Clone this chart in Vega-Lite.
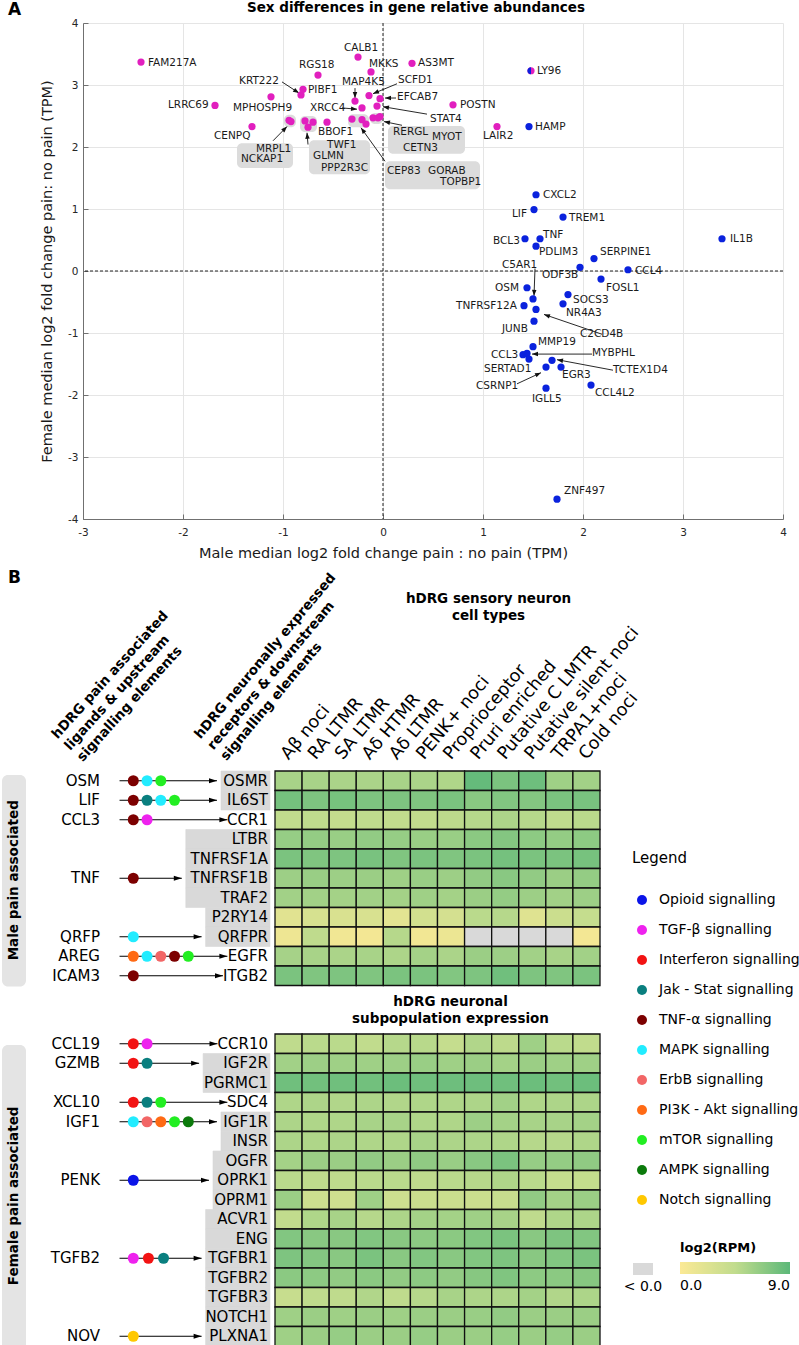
{
"$schema":"https://vega.github.io/schema/vega-lite/v6.json",
"background":"white",
"padding":{"left":2,"top":0,"right":0,"bottom":0},
"config":{"font":"DejaVu Sans","view":{"stroke":null}},
"datasets":{
"aPts":[
{"gene":"FAM217A","x":-2.42,"y":3.37,"sex":"female"},
{"gene":"CALB1","x":-0.25,"y":3.45,"sex":"female"},
{"gene":"MKKS","x":-0.12,"y":3.21,"sex":"female"},
{"gene":"AS3MT","x":0.29,"y":3.35,"sex":"female"},
{"gene":"RGS18","x":-0.65,"y":3.16,"sex":"female"},
{"gene":"KRT222","x":-0.82,"y":2.84,"sex":"female"},
{"gene":"PIBF1","x":-0.80,"y":2.93,"sex":"female"},
{"gene":"LRRC69","x":-1.68,"y":2.67,"sex":"female"},
{"gene":"MPHOSPH9","x":-1.12,"y":2.81,"sex":"female"},
{"gene":"CENPQ","x":-1.31,"y":2.33,"sex":"female"},
{"gene":"MRPL1","x":-0.94,"y":2.43,"sex":"female"},
{"gene":"NCKAP1","x":-0.92,"y":2.41,"sex":"female"},
{"gene":"TWF1","x":-0.78,"y":2.42,"sex":"female"},
{"gene":"GLMN","x":-0.70,"y":2.40,"sex":"female"},
{"gene":"PPP2R3C","x":-0.75,"y":2.32,"sex":"female"},
{"gene":"BBOF1","x":-0.56,"y":2.40,"sex":"female"},
{"gene":"MAP4K5","x":-0.28,"y":2.74,"sex":"female"},
{"gene":"XRCC4","x":-0.21,"y":2.63,"sex":"female"},
{"gene":"SCFD1","x":-0.14,"y":2.83,"sex":"female"},
{"gene":"EFCAB7","x":-0.03,"y":2.78,"sex":"female"},
{"gene":"STAT4","x":-0.06,"y":2.66,"sex":"female"},
{"gene":"CEP83","x":-0.31,"y":2.45,"sex":"female"},
{"gene":"GORAB","x":-0.21,"y":2.44,"sex":"female"},
{"gene":"TOPBP1","x":-0.17,"y":2.37,"sex":"female"},
{"gene":"RERGL","x":-0.10,"y":2.47,"sex":"female"},
{"gene":"MYOT","x":-0.05,"y":2.47,"sex":"female"},
{"gene":"CETN3","x":-0.03,"y":2.49,"sex":"female"},
{"gene":"POSTN","x":0.70,"y":2.68,"sex":"female"},
{"gene":"LAIR2","x":1.14,"y":2.33,"sex":"female"},
{"gene":"LY96","x":1.48,"y":3.23,"sex":"female"},
{"gene":"HAMP","x":1.46,"y":2.33,"sex":"male"},
{"gene":"CXCL2","x":1.53,"y":1.23,"sex":"male"},
{"gene":"LIF","x":1.51,"y":0.99,"sex":"male"},
{"gene":"TREM1","x":1.80,"y":0.87,"sex":"male"},
{"gene":"BCL3","x":1.42,"y":0.52,"sex":"male"},
{"gene":"TNF","x":1.57,"y":0.52,"sex":"male"},
{"gene":"PDLIM3","x":1.53,"y":0.40,"sex":"male"},
{"gene":"SERPINE1","x":2.11,"y":0.20,"sex":"male"},
{"gene":"ODF3B","x":1.97,"y":0.06,"sex":"male"},
{"gene":"CCL4","x":2.45,"y":0.02,"sex":"male"},
{"gene":"FOSL1","x":2.18,"y":-0.13,"sex":"male"},
{"gene":"IL1B","x":3.39,"y":0.52,"sex":"male"},
{"gene":"OSM","x":1.44,"y":-0.27,"sex":"male"},
{"gene":"C5AR1","x":1.50,"y":-0.45,"sex":"male"},
{"gene":"TNFRSF12A","x":1.41,"y":-0.56,"sex":"male"},
{"gene":"SOCS3","x":1.85,"y":-0.38,"sex":"male"},
{"gene":"NR4A3","x":1.80,"y":-0.53,"sex":"male"},
{"gene":"C2CD4B","x":1.53,"y":-0.62,"sex":"male"},
{"gene":"JUNB","x":1.51,"y":-0.81,"sex":"male"},
{"gene":"MMP19","x":1.50,"y":-1.22,"sex":"male"},
{"gene":"CCL3","x":1.40,"y":-1.35,"sex":"male"},
{"gene":"MYBPHL","x":1.44,"y":-1.33,"sex":"male"},
{"gene":"SERTAD1","x":1.46,"y":-1.42,"sex":"male"},
{"gene":"TCTEX1D4","x":1.69,"y":-1.44,"sex":"male"},
{"gene":"CSRNP1","x":1.63,"y":-1.55,"sex":"male"},
{"gene":"EGR3","x":1.78,"y":-1.55,"sex":"male"},
{"gene":"IGLL5","x":1.63,"y":-1.89,"sex":"male"},
{"gene":"CCL4L2","x":2.08,"y":-1.84,"sex":"male"},
{"gene":"ZNF497","x":1.74,"y":-3.68,"sex":"male"}
],
"aLabs":[
{"gene":"FAM217A","lx":-2.35,"ly":3.36},{"gene":"CALB1","lx":-0.39,"ly":3.59},{"gene":"MKKS","lx":-0.14,"ly":3.34},
{"gene":"AS3MT","lx":0.35,"ly":3.35},{"gene":"RGS18","lx":-0.84,"ly":3.32},{"gene":"KRT222","lx":-1.44,"ly":3.06},
{"gene":"PIBF1","lx":-0.75,"ly":2.92},{"gene":"LRRC69","lx":-2.15,"ly":2.67},{"gene":"MPHOSPH9","lx":-1.50,"ly":2.63},
{"gene":"CENPQ","lx":-1.69,"ly":2.18},{"gene":"MRPL1","lx":-1.27,"ly":1.96},{"gene":"NCKAP1","lx":-1.42,"ly":1.80},
{"gene":"TWF1","lx":-0.56,"ly":2.04},{"gene":"GLMN","lx":-0.70,"ly":1.86},{"gene":"PPP2R3C","lx":-0.62,"ly":1.66},
{"gene":"BBOF1","lx":-0.65,"ly":2.24},{"gene":"MAP4K5","lx":-0.41,"ly":3.05},{"gene":"XRCC4","lx":-0.73,"ly":2.63},
{"gene":"SCFD1","lx":0.15,"ly":3.08},{"gene":"EFCAB7","lx":0.14,"ly":2.81},{"gene":"STAT4","lx":0.47,"ly":2.45},
{"gene":"RERGL","lx":0.10,"ly":2.24},{"gene":"MYOT","lx":0.49,"ly":2.16},{"gene":"CETN3","lx":0.20,"ly":1.99},
{"gene":"CEP83","lx":0.04,"ly":1.62},{"gene":"GORAB","lx":0.45,"ly":1.62},{"gene":"TOPBP1","lx":0.57,"ly":1.44},
{"gene":"LY96","lx":1.54,"ly":3.23},{"gene":"POSTN","lx":0.77,"ly":2.68},{"gene":"LAIR2","lx":1.00,"ly":2.17},
{"gene":"HAMP","lx":1.52,"ly":2.33},{"gene":"CXCL2","lx":1.60,"ly":1.23},{"gene":"LIF","lx":1.29,"ly":0.92},
{"gene":"TREM1","lx":1.86,"ly":0.85},{"gene":"BCL3","lx":1.10,"ly":0.49},{"gene":"TNF","lx":1.60,"ly":0.58},
{"gene":"PDLIM3","lx":1.56,"ly":0.30},{"gene":"SERPINE1","lx":2.17,"ly":0.30},{"gene":"C5AR1","lx":1.19,"ly":0.10},
{"gene":"ODF3B","lx":1.59,"ly":-0.07},{"gene":"CCL4","lx":2.52,"ly":0.00},{"gene":"FOSL1","lx":2.23,"ly":-0.27},
{"gene":"IL1B","lx":3.47,"ly":0.52},{"gene":"OSM","lx":1.12,"ly":-0.28},{"gene":"TNFRSF12A","lx":0.73,"ly":-0.56},
{"gene":"SOCS3","lx":1.90,"ly":-0.47},{"gene":"NR4A3","lx":1.83,"ly":-0.67},{"gene":"JUNB","lx":1.19,"ly":-0.94},
{"gene":"C2CD4B","lx":1.97,"ly":-1.01},{"gene":"MMP19","lx":1.55,"ly":-1.14},{"gene":"CCL3","lx":1.08,"ly":-1.35},
{"gene":"MYBPHL","lx":2.09,"ly":-1.33},{"gene":"SERTAD1","lx":1.01,"ly":-1.58},{"gene":"TCTEX1D4","lx":2.30,"ly":-1.60},
{"gene":"EGR3","lx":1.79,"ly":-1.67},{"gene":"CSRNP1","lx":0.93,"ly":-1.85},{"gene":"IGLL5","lx":1.49,"ly":-2.07},
{"gene":"CCL4L2","lx":2.12,"ly":-1.96},{"gene":"ZNF497","lx":1.81,"ly":-3.55}
],
"aArrows":[
{"x1":-1.01,"y1":3.05,"x2":-0.84,"y2":2.87},
{"x1":-0.28,"y1":2.95,"x2":-0.28,"y2":2.79},
{"x1":-0.41,"y1":2.63,"x2":-0.26,"y2":2.61},
{"x1":0.14,"y1":3.02,"x2":-0.10,"y2":2.86},
{"x1":0.13,"y1":2.79,"x2":0.02,"y2":2.79},
{"x1":0.44,"y1":2.53,"x2":0.00,"y2":2.65},
{"x1":0.19,"y1":2.35,"x2":0.01,"y2":2.41},
{"x1":0.02,"y1":1.77,"x2":-0.22,"y2":2.31},
{"x1":-1.10,"y1":2.10,"x2":-0.96,"y2":2.33},
{"x1":-0.75,"y1":2.04,"x2":-0.76,"y2":2.23},
{"x1":1.52,"y1":0.04,"x2":1.51,"y2":-0.40},
{"x1":2.19,"y1":-1.02,"x2":1.61,"y2":-0.70},
{"x1":2.09,"y1":-1.34,"x2":1.49,"y2":-1.34},
{"x1":2.30,"y1":-1.60,"x2":1.74,"y2":-1.43},
{"x1":1.34,"y1":-1.82,"x2":1.58,"y2":-1.64}
],
"aBoxes":[
{"x1":-1.46,"x2":-0.90,"y1":2.06,"y2":1.66},
{"x1":-0.74,"x2":-0.13,"y1":2.11,"y2":1.56},
{"x1":0.05,"x2":0.82,"y1":2.34,"y2":1.89},
{"x1":0.02,"x2":0.97,"y1":1.77,"y2":1.32},
{"x1":-0.99,"x2":-0.87,"y1":2.52,"y2":2.32},
{"x1":-0.83,"x2":-0.66,"y1":2.50,"y2":2.24},
{"x1":-0.35,"x2":-0.14,"y1":2.53,"y2":2.32},
{"x1":-0.13,"x2":0.0,"y1":2.55,"y2":2.37}
],
"recM":[
{"r":"OSMR","g":"m1","lig":"OSM"},{"r":"IL6ST","g":"m1","lig":"LIF"},{"r":"CCR1","g":"","lig":"CCL3"},
{"r":"LTBR","g":"m2","lig":""},{"r":"TNFRSF1A","g":"m2","lig":""},{"r":"TNFRSF1B","g":"m2","lig":"TNF"},
{"r":"TRAF2","g":"m2","lig":""},{"r":"P2RY14","g":"m3","lig":""},{"r":"QRFPR","g":"m3","lig":"QRFP"},
{"r":"EGFR","g":"","lig":"AREG"},{"r":"ITGB2","g":"","lig":"ICAM3"}
],
"recF":[
{"r":"CCR10","g":"","lig":"CCL19"},{"r":"IGF2R","g":"f1","lig":"GZMB"},{"r":"PGRMC1","g":"f1","lig":""},
{"r":"SDC4","g":"","lig":"XCL10"},{"r":"IGF1R","g":"f2","lig":"IGF1"},{"r":"INSR","g":"f2","lig":""},
{"r":"OGFR","g":"f3","lig":""},{"r":"OPRK1","g":"f3","lig":"PENK"},{"r":"OPRM1","g":"f3","lig":""},
{"r":"ACVR1","g":"f4","lig":""},{"r":"ENG","g":"f4","lig":""},{"r":"TGFBR1","g":"f4","lig":"TGFB2"},
{"r":"TGFBR2","g":"f4","lig":""},{"r":"TGFBR3","g":"f4","lig":""},{"r":"NOTCH1","g":"f5","lig":""},
{"r":"PLXNA1","g":"f5","lig":"NOV"}
],
"chainM":[
{"r":"OSMR","k":1,"s":"TNF-α signalling"},{"r":"OSMR","k":2,"s":"MAPK signalling"},{"r":"OSMR","k":3,"s":"mTOR signalling"},
{"r":"IL6ST","k":1,"s":"TNF-α signalling"},{"r":"IL6ST","k":2,"s":"Jak - Stat signalling"},{"r":"IL6ST","k":3,"s":"MAPK signalling"},{"r":"IL6ST","k":4,"s":"mTOR signalling"},
{"r":"CCR1","k":1,"s":"TNF-α signalling"},{"r":"CCR1","k":2,"s":"TGF-β signalling"},
{"r":"TNFRSF1B","k":1,"s":"TNF-α signalling"},
{"r":"QRFPR","k":1,"s":"MAPK signalling"},
{"r":"EGFR","k":1,"s":"PI3K - Akt signalling"},{"r":"EGFR","k":2,"s":"MAPK signalling"},{"r":"EGFR","k":3,"s":"ErbB signalling"},{"r":"EGFR","k":4,"s":"TNF-α signalling"},{"r":"EGFR","k":5,"s":"mTOR signalling"},
{"r":"ITGB2","k":1,"s":"TNF-α signalling"}
],
"chainF":[
{"r":"CCR10","k":1,"s":"Interferon signalling"},{"r":"CCR10","k":2,"s":"TGF-β signalling"},
{"r":"IGF2R","k":1,"s":"Interferon signalling"},{"r":"IGF2R","k":2,"s":"Jak - Stat signalling"},
{"r":"SDC4","k":1,"s":"Interferon signalling"},{"r":"SDC4","k":2,"s":"Jak - Stat signalling"},{"r":"SDC4","k":3,"s":"mTOR signalling"},
{"r":"IGF1R","k":1,"s":"MAPK signalling"},{"r":"IGF1R","k":2,"s":"ErbB signalling"},{"r":"IGF1R","k":3,"s":"PI3K - Akt signalling"},{"r":"IGF1R","k":4,"s":"mTOR signalling"},{"r":"IGF1R","k":5,"s":"AMPK signalling"},
{"r":"OPRK1","k":1,"s":"Opioid signalling"},
{"r":"TGFBR1","k":1,"s":"TGF-β signalling"},{"r":"TGFBR1","k":2.1,"s":"Interferon signalling"},{"r":"TGFBR1","k":3.2,"s":"Jak - Stat signalling"},
{"r":"PLXNA1","k":1,"s":"Notch signalling"}
],
"heatM":[
{"r":"OSMR","Aβ noci":5.6,"RA LTMR":5.6,"SA LTMR":5.5,"Aδ HTMR":5.5,"Aδ LTMR":5.6,"PENK+ noci":5.5,"Proprioceptor":5.3,"Pruri enriched":8.6,"Putative C LMTR":7.6,"Putative silent noci":8.2,"TRPA1+noci":6.0,"Cold noci":5.9},
{"r":"IL6ST","Aβ noci":7.9,"RA LTMR":7.5,"SA LTMR":7.8,"Aδ HTMR":7.5,"Aδ LTMR":7.5,"PENK+ noci":7.4,"Proprioceptor":7.6,"Pruri enriched":7.0,"Putative C LMTR":7.3,"Putative silent noci":7.2,"TRPA1+noci":7.6,"Cold noci":7.7},
{"r":"CCR1","Aβ noci":4.5,"RA LTMR":4.6,"SA LTMR":4.3,"Aδ HTMR":4.6,"Aδ LTMR":4.4,"PENK+ noci":4.4,"Proprioceptor":4.7,"Pruri enriched":5.0,"Putative C LMTR":5.4,"Putative silent noci":5.0,"TRPA1+noci":4.6,"Cold noci":4.8},
{"r":"LTBR","Aβ noci":6.4,"RA LTMR":6.5,"SA LTMR":6.3,"Aδ HTMR":6.6,"Aδ LTMR":6.4,"PENK+ noci":6.3,"Proprioceptor":6.3,"Pruri enriched":6.9,"Putative C LMTR":7.2,"Putative silent noci":6.8,"TRPA1+noci":6.5,"Cold noci":6.8},
{"r":"TNFRSF1A","Aβ noci":7.6,"RA LTMR":7.4,"SA LTMR":7.5,"Aδ HTMR":7.7,"Aδ LTMR":7.4,"PENK+ noci":7.6,"Proprioceptor":7.4,"Pruri enriched":7.6,"Putative C LMTR":7.9,"Putative silent noci":7.6,"TRPA1+noci":7.6,"Cold noci":7.8},
{"r":"TNFRSF1B","Aβ noci":6.1,"RA LTMR":6.3,"SA LTMR":6.1,"Aδ HTMR":6.2,"Aδ LTMR":6.0,"PENK+ noci":6.3,"Proprioceptor":6.1,"Pruri enriched":6.6,"Putative C LMTR":7.0,"Putative silent noci":6.6,"TRPA1+noci":6.2,"Cold noci":6.5},
{"r":"TRAF2","Aβ noci":5.9,"RA LTMR":5.9,"SA LTMR":5.8,"Aδ HTMR":5.9,"Aδ LTMR":5.8,"PENK+ noci":6.0,"Proprioceptor":5.8,"Pruri enriched":6.2,"Putative C LMTR":6.5,"Putative silent noci":6.1,"TRPA1+noci":5.9,"Cold noci":6.1},
{"r":"P2RY14","Aβ noci":2.0,"RA LTMR":2.9,"SA LTMR":2.6,"Aδ HTMR":2.7,"Aδ LTMR":1.9,"PENK+ noci":3.2,"Proprioceptor":3.0,"Pruri enriched":4.8,"Putative C LMTR":5.0,"Putative silent noci":2.2,"TRPA1+noci":3.7,"Cold noci":4.2},
{"r":"QRFPR","Aβ noci":1.0,"RA LTMR":4.6,"SA LTMR":0.8,"Aδ HTMR":0.6,"Aδ LTMR":5.0,"PENK+ noci":0.7,"Proprioceptor":1.2,"Pruri enriched":-1,"Putative C LMTR":-1,"Putative silent noci":-1,"TRPA1+noci":-1,"Cold noci":0.6},
{"r":"EGFR","Aβ noci":5.7,"RA LTMR":5.6,"SA LTMR":5.5,"Aδ HTMR":5.6,"Aδ LTMR":5.4,"PENK+ noci":5.8,"Proprioceptor":5.5,"Pruri enriched":6.2,"Putative C LMTR":6.1,"Putative silent noci":5.9,"TRPA1+noci":5.6,"Cold noci":5.9},
{"r":"ITGB2","Aβ noci":7.6,"RA LTMR":7.4,"SA LTMR":7.5,"Aδ HTMR":7.4,"Aδ LTMR":7.6,"PENK+ noci":7.6,"Proprioceptor":7.3,"Pruri enriched":7.5,"Putative C LMTR":8.1,"Putative silent noci":7.5,"TRPA1+noci":7.4,"Cold noci":7.6}
],
"heatF":[
{"r":"CCR10","Aβ noci":4.6,"RA LTMR":4.8,"SA LTMR":4.8,"Aδ HTMR":4.5,"Aδ LTMR":5.0,"PENK+ noci":4.9,"Proprioceptor":4.2,"Pruri enriched":5.2,"Putative C LMTR":4.7,"Putative silent noci":6.0,"TRPA1+noci":4.8,"Cold noci":4.5},
{"r":"IGF2R","Aβ noci":5.9,"RA LTMR":6.1,"SA LTMR":6.0,"Aδ HTMR":6.0,"Aδ LTMR":6.1,"PENK+ noci":6.3,"Proprioceptor":6.0,"Pruri enriched":6.2,"Putative C LMTR":5.8,"Putative silent noci":6.2,"TRPA1+noci":6.0,"Cold noci":6.0},
{"r":"PGRMC1","Aβ noci":8.1,"RA LTMR":8.0,"SA LTMR":8.1,"Aδ HTMR":8.0,"Aδ LTMR":8.3,"PENK+ noci":8.1,"Proprioceptor":8.2,"Pruri enriched":8.2,"Putative C LMTR":8.1,"Putative silent noci":8.3,"TRPA1+noci":8.0,"Cold noci":8.3},
{"r":"SDC4","Aβ noci":5.3,"RA LTMR":5.4,"SA LTMR":5.2,"Aδ HTMR":5.4,"Aδ LTMR":5.2,"PENK+ noci":5.3,"Proprioceptor":5.3,"Pruri enriched":5.4,"Putative C LMTR":5.9,"Putative silent noci":5.3,"TRPA1+noci":5.4,"Cold noci":5.4},
{"r":"IGF1R","Aβ noci":5.4,"RA LTMR":5.3,"SA LTMR":5.3,"Aδ HTMR":5.6,"Aδ LTMR":5.6,"PENK+ noci":5.3,"Proprioceptor":5.3,"Pruri enriched":6.1,"Putative C LMTR":5.8,"Putative silent noci":5.6,"TRPA1+noci":5.6,"Cold noci":5.8},
{"r":"INSR","Aβ noci":5.4,"RA LTMR":5.3,"SA LTMR":5.4,"Aδ HTMR":5.3,"Aδ LTMR":5.3,"PENK+ noci":5.6,"Proprioceptor":5.4,"Pruri enriched":5.4,"Putative C LMTR":5.3,"Putative silent noci":5.0,"TRPA1+noci":5.0,"Cold noci":5.3},
{"r":"OGFR","Aβ noci":5.8,"RA LTMR":6.2,"SA LTMR":6.2,"Aδ HTMR":6.6,"Aδ LTMR":6.2,"PENK+ noci":6.7,"Proprioceptor":6.3,"Pruri enriched":7.0,"Putative C LMTR":7.6,"Putative silent noci":6.4,"TRPA1+noci":6.5,"Cold noci":6.7},
{"r":"OPRK1","Aβ noci":4.8,"RA LTMR":4.6,"SA LTMR":4.6,"Aδ HTMR":4.8,"Aδ LTMR":4.8,"PENK+ noci":4.6,"Proprioceptor":4.8,"Pruri enriched":5.0,"Putative C LMTR":5.3,"Putative silent noci":4.8,"TRPA1+noci":4.2,"Cold noci":4.3},
{"r":"OPRM1","Aβ noci":6.2,"RA LTMR":3.6,"SA LTMR":3.5,"Aδ HTMR":6.0,"Aδ LTMR":3.6,"PENK+ noci":3.8,"Proprioceptor":3.8,"Pruri enriched":3.7,"Putative C LMTR":4.0,"Putative silent noci":6.6,"TRPA1+noci":5.8,"Cold noci":6.2},
{"r":"ACVR1","Aβ noci":4.4,"RA LTMR":5.3,"SA LTMR":5.6,"Aδ HTMR":5.0,"Aδ LTMR":5.4,"PENK+ noci":5.8,"Proprioceptor":5.8,"Pruri enriched":6.0,"Putative C LMTR":5.6,"Putative silent noci":4.6,"TRPA1+noci":5.3,"Cold noci":5.4},
{"r":"ENG","Aβ noci":7.3,"RA LTMR":7.0,"SA LTMR":7.0,"Aδ HTMR":7.3,"Aδ LTMR":7.0,"PENK+ noci":6.8,"Proprioceptor":6.9,"Pruri enriched":7.3,"Putative C LMTR":7.6,"Putative silent noci":7.0,"TRPA1+noci":7.5,"Cold noci":7.3},
{"r":"TGFBR1","Aβ noci":7.5,"RA LTMR":7.2,"SA LTMR":7.0,"Aδ HTMR":7.6,"Aδ LTMR":7.0,"PENK+ noci":7.3,"Proprioceptor":7.0,"Pruri enriched":7.3,"Putative C LMTR":7.5,"Putative silent noci":7.0,"TRPA1+noci":7.3,"Cold noci":7.6},
{"r":"TGFBR2","Aβ noci":6.9,"RA LTMR":6.8,"SA LTMR":6.6,"Aδ HTMR":6.9,"Aδ LTMR":6.6,"PENK+ noci":6.8,"Proprioceptor":6.6,"Pruri enriched":7.1,"Putative C LMTR":7.4,"Putative silent noci":6.8,"TRPA1+noci":6.9,"Cold noci":7.1},
{"r":"TGFBR3","Aβ noci":4.0,"RA LTMR":4.6,"SA LTMR":4.6,"Aδ HTMR":5.2,"Aδ LTMR":4.6,"PENK+ noci":5.0,"Proprioceptor":5.6,"Pruri enriched":5.4,"Putative C LMTR":5.4,"Putative silent noci":5.8,"TRPA1+noci":5.2,"Cold noci":5.4},
{"r":"NOTCH1","Aβ noci":6.0,"RA LTMR":6.2,"SA LTMR":6.0,"Aδ HTMR":6.2,"Aδ LTMR":6.0,"PENK+ noci":6.2,"Proprioceptor":6.2,"Pruri enriched":6.3,"Putative C LMTR":6.6,"Putative silent noci":6.2,"TRPA1+noci":6.2,"Cold noci":6.2},
{"r":"PLXNA1","Aβ noci":6.0,"RA LTMR":6.2,"SA LTMR":6.4,"Aδ HTMR":6.2,"Aδ LTMR":6.2,"PENK+ noci":6.4,"Proprioceptor":6.2,"Pruri enriched":6.2,"Putative C LMTR":6.4,"Putative silent noci":6.2,"TRPA1+noci":6.4,"Cold noci":6.2}
]
},
"spacing":9,
"resolve":{"scale":{"fill":"shared","color":"shared","stroke":"shared"}},
"vconcat":[
{"hconcat":[
 {"width":81,"height":496,"data":{"values":[{"k":0}]},"mark":{"type":"rect","opacity":0},"encoding":{},
  "title":{"text":"A","anchor":"start","frame":"group","fontSize":17,"fontWeight":"bold","dx":6,"offset":4}},
 {"width":700,"height":496,
  "title":{"text":"Sex differences in gene relative abundances","fontSize":13.5,"fontWeight":"bold","frame":"group","anchor":"middle","dx":-17,"offset":4},
  "layer":[
   {"data":{"name":"aBoxes"},"mark":{"type":"rect","fill":"#dcdcdc","cornerRadius":5},
    "encoding":{
     "x":{"field":"x1","type":"quantitative","scale":{"domain":[-3,4],"nice":false,"zero":false},
      "axis":{"values":[-3,-2,-1,0,1,2,3,4],"labelExpr":"'' + datum.value","grid":true,"gridColor":"#e5e5e5","domainColor":"#707070","tickColor":"#707070","tickSize":-5,"labelPadding":13,"labelFontSize":10.5,"labelColor":"#262626","labelFlush":false,"title":"Male median log2 fold change pain : no pain (TPM)","titleFontSize":14.5,"titleFontWeight":"normal","titleColor":"#1a1a1a","titleX":300,"titleY":34,"titleAlign":"center","titleBaseline":"middle"}},
     "x2":{"field":"x2"},
     "y":{"field":"y1","type":"quantitative","scale":{"domain":[-4,4],"nice":false,"zero":false},
      "axis":{"values":[-4,-3,-2,-1,0,1,2,3,4],"labelExpr":"'' + datum.value","grid":true,"gridColor":"#e5e5e5","domainColor":"#707070","tickColor":"#707070","tickSize":-5,"labelPadding":10,"labelFontSize":10.5,"labelColor":"#262626","labelFlush":false,"title":"Female median log2 fold change pain: no pain (TPM)","titleFontSize":14.5,"titleFontWeight":"normal","titleColor":"#1a1a1a","titleX":-36,"titleY":248,"titleAlign":"center","titleBaseline":"middle"}},
     "y2":{"field":"y2"}}},
   {"data":{"values":[{"k":0}]},"mark":{"type":"rule","strokeDash":[3,2],"color":"#222","strokeWidth":1},"encoding":{"x":{"datum":0,"type":"quantitative"}}},
   {"data":{"values":[{"k":0}]},"mark":{"type":"rule","strokeDash":[3,2],"color":"#222","strokeWidth":1},"encoding":{"y":{"datum":0,"type":"quantitative"}}},
   {"data":{"name":"aArrows"},"mark":{"type":"rule","color":"#111","strokeWidth":0.9},
    "encoding":{"x":{"field":"x1","type":"quantitative"},"x2":{"field":"x2"},"y":{"field":"y1","type":"quantitative"},"y2":{"field":"y2"}}},
   {"data":{"name":"aArrows"},"transform":[{"calculate":"atan2(-(datum.y2-datum.y1)*62,(datum.x2-datum.x1)*100)*180/PI","as":"ang"}],
    "mark":{"type":"point","shape":"M0,0L-2,-0.75L-2,0.75Z","filled":true,"size":36,"color":"#111","opacity":1},
    "encoding":{"x":{"field":"x2","type":"quantitative"},"y":{"field":"y2","type":"quantitative"},"angle":{"field":"ang","type":"quantitative","scale":null}}},
   {"data":{"name":"aPts"},"mark":{"type":"circle","size":52,"opacity":1},
    "encoding":{"x":{"field":"x","type":"quantitative"},"y":{"field":"y","type":"quantitative"},
     "fill":{"condition":{"test":"datum.sex === 'female'","value":"#e11fbe"},"value":"#0a22dd"}}},
   {"data":{"name":"aPts"},"transform":[{"filter":"datum.gene === 'LY96'"}],
    "mark":{"type":"point","shape":"M0,-1A1,1 0 0 0 0,1Z","filled":true,"size":52,"color":"#0a22dd","opacity":1},
    "encoding":{"x":{"field":"x","type":"quantitative"},"y":{"field":"y","type":"quantitative"}}},
   {"data":{"name":"aLabs"},"mark":{"type":"text","align":"left","baseline":"middle","fontSize":10.5,"color":"#1a1a1a"},
    "encoding":{"x":{"field":"lx","type":"quantitative"},"y":{"field":"ly","type":"quantitative"},"text":{"field":"gene"}}}
  ]}
],"spacing":0,"bounds":"flush"},
{"vconcat":[
 {"hconcat":[
  {"width":24,"height":214.5,"data":{"values":[{"k":0}]},
   "title":{"text":"B","anchor":"start","frame":"group","fontSize":17,"fontWeight":"bold","dx":6,"offset":184},
   "layer":[
    {"mark":{"type":"rect","fill":"#e4e4e4","cornerRadius":6},"encoding":{"y":{"datum":0.2,"type":"quantitative","scale":{"domain":[0,11],"reverse":true,"nice":false,"zero":false},"axis":null},"y2":{"datum":11.05}}},
    {"mark":{"type":"text","angle":270,"fontSize":13.5,"fontWeight":"bold","align":"center","baseline":"middle","text":"Male pain associated","color":"black"},"encoding":{"y":{"datum":5.6,"type":"quantitative","axis":null}}}
   ]},
  {"width":78,"height":214.5,"data":{"name":"recM"},"transform":[{"filter":"datum.lig != ''"}],
   "mark":{"type":"text","align":"right","baseline":"middle","fontSize":15,"dx":-4,"color":"black"},
   "encoding":{
    "y":{"field":"r","type":"nominal","scale":{"domain":["OSMR","IL6ST","CCR1","LTBR","TNFRSF1A","TNFRSF1B","TRAF2","P2RY14","QRFPR","EGFR","ITGB2"],"paddingInner":0,"paddingOuter":0},"axis":null},
    "x":{"datum":1,"type":"quantitative","scale":{"domain":[0,1]},"axis":{"orient":"top","domain":false,"ticks":false,"labels":false,"grid":false,"title":["hDRG pain associated","ligands & upstream","signalling elements"],"titleAngle":-48,"titleAlign":"left","titleBaseline":"alphabetic","titleX":31,"titleY":-32,"titleFontSize":13.5,"titleFontWeight":"bold","titleLineHeight":17,"titleColor":"black"}},
    "text":{"field":"lig"}}},
  {"width":171,"height":214.5,
   "encoding":{"y":{"field":"r","type":"nominal","scale":{"domain":["OSMR","IL6ST","CCR1","LTBR","TNFRSF1A","TNFRSF1B","TRAF2","P2RY14","QRFPR","EGFR","ITGB2"],"paddingInner":0,"paddingOuter":0},"axis":null}},
   "layer":[
    {"data":{"name":"recM"},"transform":[
      {"calculate":"9.9*length(datum.r) - 5.5*(length(split(datum.r,'I'))-1) + 2.5*(length(split(datum.r,'M'))-1)","as":"w"},
      {"joinaggregate":[{"op":"max","field":"w","as":"gw"}],"groupby":["g"]},
      {"filter":"datum.g != ''"},
      {"calculate":"11.306 - (datum.gw + 10)/13.75","as":"bx"},
      {"calculate":"10.94","as":"bx2"}],
     "mark":{"type":"rect","fill":"#d9d9d9","stroke":"#d9d9d9","strokeWidth":0.6},
     "encoding":{"x":{"field":"bx","type":"quantitative","scale":{"domain":[-1.13,11.306],"nice":false,"zero":false},
       "axis":{"orient":"top","domain":false,"ticks":false,"labels":false,"grid":false,"title":["hDRG neuronally expressed","receptors & downstream","signalling elements"],"titleAngle":-50,"titleAlign":"left","titleBaseline":"alphabetic","titleX":96,"titleY":-32,"titleFontSize":13.5,"titleFontWeight":"bold","titleLineHeight":17,"titleColor":"black"}},
      "x2":{"field":"bx2"}}},
    {"data":{"name":"recM"},"transform":[
      {"calculate":"9.9*length(datum.r) - 5.5*(length(split(datum.r,'I'))-1) + 2.5*(length(split(datum.r,'M'))-1)","as":"w"},
      {"joinaggregate":[{"op":"max","field":"w","as":"gw"}],"groupby":["g"]},
      {"filter":"datum.lig != ''"},
      {"calculate":"datum.g == '' ? 11.306 - (datum.w + 8)/13.75 : 11.306 - (datum.gw + 14)/13.75","as":"tip"},
      {"calculate":"0","as":"x0"}],
     "mark":{"type":"rule","color":"black","strokeWidth":1},
     "encoding":{"x":{"field":"x0","type":"quantitative"},"x2":{"field":"tip"}}},
    {"data":{"name":"recM"},"transform":[
      {"calculate":"9.9*length(datum.r) - 5.5*(length(split(datum.r,'I'))-1) + 2.5*(length(split(datum.r,'M'))-1)","as":"w"},
      {"joinaggregate":[{"op":"max","field":"w","as":"gw"}],"groupby":["g"]},
      {"filter":"datum.lig != ''"},
      {"calculate":"datum.g == '' ? 11.306 - (datum.w + 8)/13.75 : 11.306 - (datum.gw + 14)/13.75","as":"tip"}],
     "mark":{"type":"point","shape":"M0,0L-2,-0.6L-2,0.6Z","filled":true,"size":64,"color":"black","opacity":1},
     "encoding":{"x":{"field":"tip","type":"quantitative"}}},
    {"data":{"name":"chainM"},"mark":{"type":"point","filled":true,"size":121,"opacity":1,"strokeWidth":0},
     "encoding":{"x":{"field":"k","type":"quantitative"},
      "fill":{"field":"s","type":"nominal","scale":{"domain":["Opioid signalling","TGF-β signalling","Interferon signalling","Jak - Stat signalling","TNF-α signalling","MAPK signalling","ErbB signalling","PI3K - Akt signalling","mTOR signalling","AMPK signalling","Notch signalling"],"range":["#0b14e8","#ee22ee","#f21313","#0a7f7f","#7c0000","#22ecff","#f26666","#ff6a14","#22ee22","#0b7a0b","#ffc800"]},
       "legend":{"title":"Legend","orient":"none","legendX":630,"legendY":828,"titleFontSize":15,"titleFontWeight":"normal","titleColor":"black","titlePadding":27,"labelFontSize":14,"labelColor":"black","labelLimit":300,"symbolSize":100,"symbolType":"circle","symbolStrokeWidth":0,"symbolOffset":3,"labelOffset":10,"rowPadding":16}}}},
    {"data":{"name":"recM"},"transform":[{"calculate":"11.306","as":"tx"}],"mark":{"type":"text","align":"right","baseline":"middle","fontSize":15,"dx":-7,"color":"black"},
     "encoding":{"x":{"field":"tx","type":"quantitative"},"text":{"field":"r"}}}
   ]},
  {"width":325,"height":214.5,
   "title":{"text":["hDRG sensory neuron","cell types"],"fontSize":13.5,"fontWeight":"bold","frame":"group","anchor":"middle","dx":51,"offset":1,"lineHeight":17},
   "data":{"name":"heatM"},
   "transform":[{"fold":["Aβ noci","RA LTMR","SA LTMR","Aδ HTMR","Aδ LTMR","PENK+ noci","Proprioceptor","Pruri enriched","Putative C LMTR","Putative silent noci","TRPA1+noci","Cold noci"],"as":["c","v"]}],
   "encoding":{
    "x":{"field":"c","type":"nominal","scale":{"domain":["Aβ noci","RA LTMR","SA LTMR","Aδ HTMR","Aδ LTMR","PENK+ noci","Proprioceptor","Pruri enriched","Putative C LMTR","Putative silent noci","TRPA1+noci","Cold noci"],"paddingInner":0,"paddingOuter":0},
     "axis":{"orient":"top","labelAngle":-50,"labelAlign":"left","labelBaseline":"alphabetic","labelFontSize":17.5,"labelPadding":11,"ticks":false,"domain":false,"title":null,"labelColor":"black","labelLimit":400}},
    "y":{"field":"r","type":"nominal","scale":{"domain":["OSMR","IL6ST","CCR1","LTBR","TNFRSF1A","TNFRSF1B","TRAF2","P2RY14","QRFPR","EGFR","ITGB2"],"paddingInner":0,"paddingOuter":0},"axis":null}},
   "layer":[
    {"mark":{"type":"rect","stroke":"#111","strokeWidth":1.3},
     "encoding":{"color":{"condition":{"test":"datum.v < 0","value":"#d9d9d9"},"field":"v","type":"quantitative","scale":{"domain":[0,4.5,9],"range":["#fbe995","#c1dc8d","#5cb879"],"interpolate":"rgb"},
      "legend":{"title":"log2(RPM)","orient":"none","legendX":678,"legendY":1219,"direction":"horizontal","gradientLength":110,"gradientThickness":12,"values":[0,9],"format":".1f","titleFontSize":13,"titleFontWeight":"bold","titleColor":"black","titlePadding":7,"labelFontSize":14,"labelColor":"black","labelOffset":5,"gradientStrokeWidth":0}}}},
    {"transform":[{"filter":"datum.v < 0"}],"mark":{"type":"rect","strokeOpacity":0,"fillOpacity":0},
     "encoding":{"stroke":{"field":"v","type":"quantitative","scale":{"domain":[-2,0],"range":["#d9d9d9","#d9d9d9"]},
      "legend":{"title":null,"orient":"none","legendX":631,"legendY":1240,"direction":"horizontal","gradientLength":20,"gradientThickness":12,"values":[-1],"labelExpr":"'< 0.0'","labelFontSize":14,"labelColor":"black","labelOffset":5,"gradientStrokeWidth":0}}}}
   ]}
 ],"spacing":0,"bounds":"flush","resolve":{"scale":{"fill":"shared","color":"shared","stroke":"shared"}}},
 {"hconcat":[
  {"width":24,"height":312,"data":{"values":[{"k":0}]},
   "layer":[
    {"mark":{"type":"rect","fill":"#e4e4e4","cornerRadius":6},"encoding":{"y":{"datum":0.56,"type":"quantitative","scale":{"domain":[0,16],"reverse":true,"nice":false,"zero":false},"axis":null},"y2":{"datum":16.3}}},
    {"mark":{"type":"text","angle":270,"fontSize":13.5,"fontWeight":"bold","align":"center","baseline":"middle","text":"Female pain associated","color":"black"},"encoding":{"y":{"datum":8.3,"type":"quantitative","axis":null}}}
   ]},
  {"width":78,"height":312,"data":{"name":"recF"},"transform":[{"filter":"datum.lig != ''"}],
   "mark":{"type":"text","align":"right","baseline":"middle","fontSize":15,"dx":-4,"color":"black"},
   "encoding":{
    "y":{"field":"r","type":"nominal","scale":{"domain":["CCR10","IGF2R","PGRMC1","SDC4","IGF1R","INSR","OGFR","OPRK1","OPRM1","ACVR1","ENG","TGFBR1","TGFBR2","TGFBR3","NOTCH1","PLXNA1"],"paddingInner":0,"paddingOuter":0},"axis":null},
    "x":{"datum":1,"type":"quantitative","scale":{"domain":[0,1]},"axis":null},
    "text":{"field":"lig"}}},
  {"width":171,"height":312,
   "encoding":{"y":{"field":"r","type":"nominal","scale":{"domain":["CCR10","IGF2R","PGRMC1","SDC4","IGF1R","INSR","OGFR","OPRK1","OPRM1","ACVR1","ENG","TGFBR1","TGFBR2","TGFBR3","NOTCH1","PLXNA1"],"paddingInner":0,"paddingOuter":0},"axis":null}},
   "layer":[
    {"data":{"name":"recF"},"transform":[
      {"calculate":"9.9*length(datum.r) - 5.5*(length(split(datum.r,'I'))-1) + 2.5*(length(split(datum.r,'M'))-1)","as":"w"},
      {"joinaggregate":[{"op":"max","field":"w","as":"gw"}],"groupby":["g"]},
      {"filter":"datum.g != ''"},
      {"calculate":"11.306 - (datum.gw + 10)/13.75","as":"bx"},
      {"calculate":"10.94","as":"bx2"}],
     "mark":{"type":"rect","fill":"#d9d9d9","stroke":"#d9d9d9","strokeWidth":0.6},
     "encoding":{"x":{"field":"bx","type":"quantitative","scale":{"domain":[-1.13,11.306],"nice":false,"zero":false},"axis":null},"x2":{"field":"bx2"}}},
    {"data":{"name":"recF"},"transform":[
      {"calculate":"9.9*length(datum.r) - 5.5*(length(split(datum.r,'I'))-1) + 2.5*(length(split(datum.r,'M'))-1)","as":"w"},
      {"joinaggregate":[{"op":"max","field":"w","as":"gw"}],"groupby":["g"]},
      {"filter":"datum.lig != ''"},
      {"calculate":"datum.g == '' ? 11.306 - (datum.w + 8)/13.75 : 11.306 - (datum.gw + 14)/13.75","as":"tip"},
      {"calculate":"0","as":"x0"}],
     "mark":{"type":"rule","color":"black","strokeWidth":1},
     "encoding":{"x":{"field":"x0","type":"quantitative","axis":null},"x2":{"field":"tip"}}},
    {"data":{"name":"recF"},"transform":[
      {"calculate":"9.9*length(datum.r) - 5.5*(length(split(datum.r,'I'))-1) + 2.5*(length(split(datum.r,'M'))-1)","as":"w"},
      {"joinaggregate":[{"op":"max","field":"w","as":"gw"}],"groupby":["g"]},
      {"filter":"datum.lig != ''"},
      {"calculate":"datum.g == '' ? 11.306 - (datum.w + 8)/13.75 : 11.306 - (datum.gw + 14)/13.75","as":"tip"}],
     "mark":{"type":"point","shape":"M0,0L-2,-0.6L-2,0.6Z","filled":true,"size":64,"color":"black","opacity":1},
     "encoding":{"x":{"field":"tip","type":"quantitative","axis":null}}},
    {"data":{"name":"chainF"},"mark":{"type":"point","filled":true,"size":121,"opacity":1,"strokeWidth":0},
     "encoding":{"x":{"field":"k","type":"quantitative","axis":null},
      "fill":{"field":"s","type":"nominal","scale":{"domain":["Opioid signalling","TGF-β signalling","Interferon signalling","Jak - Stat signalling","TNF-α signalling","MAPK signalling","ErbB signalling","PI3K - Akt signalling","mTOR signalling","AMPK signalling","Notch signalling"],"range":["#0b14e8","#ee22ee","#f21313","#0a7f7f","#7c0000","#22ecff","#f26666","#ff6a14","#22ee22","#0b7a0b","#ffc800"]},
       "legend":{"title":"Legend","orient":"none","legendX":630,"legendY":828,"titleFontSize":15,"titleFontWeight":"normal","titleColor":"black","titlePadding":27,"labelFontSize":14,"labelColor":"black","labelLimit":300,"symbolSize":100,"symbolType":"circle","symbolStrokeWidth":0,"symbolOffset":3,"labelOffset":10,"rowPadding":16}}}},
    {"data":{"name":"recF"},"transform":[{"calculate":"11.306","as":"tx"}],"mark":{"type":"text","align":"right","baseline":"middle","fontSize":15,"dx":-7,"color":"black"},
     "encoding":{"x":{"field":"tx","type":"quantitative","axis":null},"text":{"field":"r"}}}
   ]},
  {"width":325,"height":312,
   "title":{"text":["hDRG neuronal","subpopulation expression"],"fontSize":13.5,"fontWeight":"bold","frame":"group","anchor":"middle","dx":13,"offset":8,"lineHeight":17},
   "data":{"name":"heatF"},
   "transform":[{"fold":["Aβ noci","RA LTMR","SA LTMR","Aδ HTMR","Aδ LTMR","PENK+ noci","Proprioceptor","Pruri enriched","Putative C LMTR","Putative silent noci","TRPA1+noci","Cold noci"],"as":["c","v"]}],
   "mark":{"type":"rect","stroke":"#111","strokeWidth":1.3},
   "encoding":{
    "x":{"field":"c","type":"nominal","scale":{"domain":["Aβ noci","RA LTMR","SA LTMR","Aδ HTMR","Aδ LTMR","PENK+ noci","Proprioceptor","Pruri enriched","Putative C LMTR","Putative silent noci","TRPA1+noci","Cold noci"],"paddingInner":0,"paddingOuter":0},"axis":null},
    "y":{"field":"r","type":"nominal","scale":{"domain":["CCR10","IGF2R","PGRMC1","SDC4","IGF1R","INSR","OGFR","OPRK1","OPRM1","ACVR1","ENG","TGFBR1","TGFBR2","TGFBR3","NOTCH1","PLXNA1"],"paddingInner":0,"paddingOuter":0},"axis":null},
    "color":{"condition":{"test":"datum.v < 0","value":"#d9d9d9"},"field":"v","type":"quantitative","scale":{"domain":[0,4.5,9],"range":["#fbe995","#c1dc8d","#5cb879"],"interpolate":"rgb"},
      "legend":{"title":"log2(RPM)","orient":"none","legendX":678,"legendY":1219,"direction":"horizontal","gradientLength":110,"gradientThickness":12,"values":[0,9],"format":".1f","titleFontSize":13,"titleFontWeight":"bold","titleColor":"black","titlePadding":7,"labelFontSize":14,"labelColor":"black","labelOffset":5,"gradientStrokeWidth":0}}}}
 ],"spacing":0,"bounds":"flush","resolve":{"scale":{"fill":"shared","color":"shared","stroke":"shared"}}}
],"spacing":7,"resolve":{"scale":{"fill":"shared","color":"shared","stroke":"shared"}}}
]
}
